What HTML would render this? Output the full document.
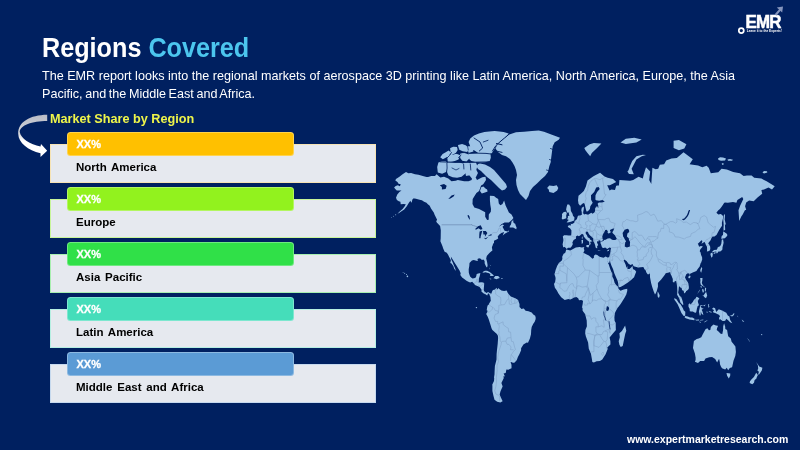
<!DOCTYPE html>
<html><head><meta charset="utf-8">
<style>
*{margin:0;padding:0;box-sizing:border-box}
html,body{width:800px;height:450px;overflow:hidden;background:#002060}
body{position:relative;font-family:"Liberation Sans",Arial,sans-serif}
.t{position:absolute;white-space:nowrap}
#title{left:42px;top:31.5px;font-size:28px;font-weight:bold;color:#fff;transform:scaleX(0.9);transform-origin:0 0}
#title span{color:#4cc6ee}
#desc{left:42px;top:68px;font-size:12.6px;line-height:17.5px;color:#fff}
#msr{left:50px;top:110.8px;font-size:13.3px;font-weight:bold;color:#eef54a;transform:scaleX(0.952);transform-origin:0 0}
.box{position:absolute;left:50px;width:326px;height:39px;background:#e6e9ef;border:1px solid #f5e6c0}
.bar{position:absolute;left:67px;width:227px;height:23.3px;border-radius:3.5px;border:1px solid rgba(255,255,255,0.3)}
.pct{position:absolute;left:76.5px;font-size:11px;font-weight:bold;color:#fff;-webkit-text-stroke:0.3px #fff}
.lbl{position:absolute;left:76px;font-size:11.5px;font-weight:bold;color:#000;word-spacing:1.6px}
#url{left:627px;top:433px;font-size:10.5px;font-weight:bold;color:#fff}
</style></head><body>
<div class="t" id="title">Regions <span>Covered</span></div>
<div class="t" id="desc">The EMR report looks into the regional markets of aerospace 3D printing like Latin America, North America, Europe, the Asia<br><span style="word-spacing:-0.9px">Pacific, and the Middle East and Africa.</span></div>
<div class="t" id="msr">Market Share by Region</div>
<div class="box" style="top:144px;border-color:#f6e3b4"></div>
<div class="bar" style="top:132.4px;background:#ffc000"></div>
<div class="t pct" style="top:138px">XX%</div>
<div class="t lbl" style="top:161px">North America</div>
<div class="box" style="top:199px;border-color:#c8f59a"></div>
<div class="bar" style="top:187.4px;background:#92f21e"></div>
<div class="t pct" style="top:193px">XX%</div>
<div class="t lbl" style="top:216px">Europe</div>
<div class="box" style="top:254px;border-color:#a8efb0"></div>
<div class="bar" style="top:242.4px;background:#30e048"></div>
<div class="t pct" style="top:248px">XX%</div>
<div class="t lbl" style="top:271px">Asia Pacific</div>
<div class="box" style="top:309px;border-color:#b5efe2"></div>
<div class="bar" style="top:297.4px;background:#45ddba"></div>
<div class="t pct" style="top:303px">XX%</div>
<div class="t lbl" style="top:326px">Latin America</div>
<div class="box" style="top:364px;border-color:#c6d9ee"></div>
<div class="bar" style="top:352.4px;background:#5b9bd5"></div>
<div class="t pct" style="top:358px">XX%</div>
<div class="t lbl" style="top:381px">Middle East and Africa</div>
<svg style="position:absolute;left:0;top:0" width="800" height="450" viewBox="0 0 800 450">
<defs><linearGradient id="ag" x1="0" y1="0" x2="0" y2="1"><stop offset="0" stop-color="#b9bcc6"/><stop offset="0.45" stop-color="#d3d5db"/><stop offset="0.62" stop-color="#ffffff"/><stop offset="1" stop-color="#ffffff"/></linearGradient></defs>
<path d="M47.2,114.8 C30,115 18,122 18.2,133.7 C18.5,143 28,150 40.5,153.3 L40.5,157 L47.2,150.8 L41,143.9 L40.5,146.6 C30,144 21,139 19.7,132 C20,125 32,121 47.2,120.9 Z" fill="url(#ag)"/>
<path d="M394.1,187.6 395.7,186.1 397.8,185.3 399.9,186.3 400.7,184.2 398.5,183.7 397.5,181.9 395.3,180.4 396.0,178.9 399.4,176.7 402.6,174.2 406.0,171.9 408.4,173.3 411.1,173.0 415.0,174.2 418.5,174.7 422.8,175.9 426.5,177.0 428.1,177.0 431.3,176.1 435.0,175.9 436.6,174.2 440.3,177.5 444.0,176.7 448.3,178.6 451.5,181.3 455.7,180.8 457.8,180.0 464.2,181.3 468.5,181.3 471.7,180.0 472.4,170.4 474.9,175.9 477.0,180.0 482.3,177.3 485.5,176.7 486.0,180.0 483.4,184.0 481.8,185.3 481.2,185.3 479.1,191.1 476.4,192.9 472.7,198.9 472.5,204.0 474.3,207.6 479.1,209.1 485.2,212.2 485.2,216.8 487.1,220.1 488.7,219.7 488.8,214.5 490.8,211.7 491.0,209.1 490.3,204.7 489.9,200.1 489.9,195.8 494.0,196.0 496.1,197.7 498.2,198.9 498.8,203.5 500.4,205.3 502.5,204.0 504.1,200.5 505.7,205.8 507.3,209.1 508.9,212.4 511.5,214.5 513.4,218.1 512.1,219.7 508.9,222.4 504.6,222.4 501.4,224.2 498.8,226.8 502.5,224.6 504.1,225.2 502.5,226.8 503.8,229.3 504.6,230.7 507.8,231.6 508.9,230.3 508.9,231.4 505.1,233.5 502.7,235.4 504.1,232.0 501.4,233.0 499.3,234.5 497.7,236.4 498.2,238.6 496.6,239.5 494.0,240.8 494.0,242.8 493.0,243.9 492.8,245.0 491.9,247.3 492.4,250.4 490.8,251.7 489.7,252.8 488.5,253.9 486.8,256.0 486.2,258.5 487.1,261.9 487.6,265.2 487.2,267.3 486.5,267.3 485.7,265.8 484.7,263.4 484.6,261.0 483.4,259.4 481.9,259.9 480.7,258.7 479.1,258.2 477.5,259.0 477.8,261.0 476.4,260.7 473.8,259.9 471.9,260.5 469.5,263.0 469.3,266.0 468.7,269.3 468.8,272.5 469.2,274.1 470.1,276.5 471.7,278.0 472.7,278.6 474.9,278.0 475.9,277.3 476.4,275.4 476.7,274.1 479.1,273.3 480.4,273.3 479.6,276.5 478.9,278.4 478.8,281.3 478.6,282.4 481.2,282.2 483.4,282.4 484.2,283.7 483.9,287.6 483.7,289.9 484.4,291.4 486.5,293.0 488.1,292.1 490.4,293.6 489.8,295.6 489.2,293.9 488.1,293.2 487.2,295.6 485.5,294.2 483.7,293.6 481.4,291.4 481.6,289.7 479.6,286.9 478.6,286.5 475.4,285.2 474.5,284.3 472.2,281.8 470.1,282.6 467.9,281.6 466.5,280.8 464.2,279.1 462.1,277.5 460.3,275.1 460.7,273.3 459.5,270.6 457.8,267.7 456.3,265.2 454.8,262.9 452.7,259.4 450.8,256.5 451.3,259.4 452.5,261.9 453.8,265.2 455.4,269.0 455.8,271.1 454.1,268.5 453.4,266.3 451.5,263.5 450.3,263.0 450.9,260.2 448.7,256.1 448.1,254.8 446.8,252.7 444.6,251.7 443.1,248.2 442.4,245.9 440.4,241.2 440.7,238.2 440.8,230.3 440.1,226.0 439.2,225.0 436.8,222.6 436.2,221.2 437.1,219.7 436.1,217.7 434.5,214.5 433.9,212.8 432.9,211.3 431.0,208.5 429.7,205.8 427.6,204.0 426.5,202.8 424.1,201.7 421.9,200.3 419.6,199.8 416.9,198.9 414.9,198.4 413.2,198.4 412.3,199.8 411.9,201.7 411.3,202.8 410.4,200.8 408.9,202.8 406.8,206.2 404.2,209.6 401.5,211.3 399.4,212.8 397.5,213.7 399.9,211.3 402.6,209.1 404.7,206.2 405.8,204.2 403.6,204.0 400.7,204.2 400.4,201.7 398.8,201.2 396.9,200.1 396.0,197.7 397.3,194.6 399.4,192.1 401.5,190.6 399.4,190.4 396.8,190.4 395.3,189.1ZM562.6,244.2 563.2,247.3 564.8,246.9 566.0,248.2 566.7,249.0 568.0,247.8 570.5,247.8 571.8,246.2 572.9,244.1 572.3,242.8 573.6,240.1 576.1,238.4 575.9,236.4 577.4,235.6 579.0,236.2 580.6,234.9 582.0,233.7 583.5,234.7 583.8,236.6 585.6,238.8 587.5,240.4 589.2,241.7 589.3,245.6 590.3,244.6 590.8,243.7 590.2,242.4 590.9,241.2 592.3,241.7 591.8,240.8 589.7,239.3 589.9,238.4 587.7,237.3 587.1,235.4 585.7,233.5 585.8,231.8 587.2,231.4 588.1,232.2 588.8,234.1 590.1,235.4 591.9,237.1 593.3,238.6 593.3,241.2 594.1,242.6 595.1,245.0 595.6,247.6 596.6,248.3 597.3,248.3 597.1,245.7 597.8,245.7 598.2,245.1 597.1,242.8 597.0,240.8 598.1,241.9 598.7,240.3 600.3,240.4 600.6,241.7 601.9,240.8 603.5,239.9 602.4,239.0 602.3,236.0 603.1,234.1 604.2,232.2 605.3,229.9 606.5,229.7 607.3,230.5 608.2,232.0 607.2,231.8 608.3,233.5 609.3,233.2 610.4,232.4 611.4,231.8 610.4,231.8 609.9,230.1 612.5,228.7 614.3,228.3 613.3,230.7 612.3,232.2 612.8,233.2 614.9,235.2 616.9,239.0 615.2,240.1 612.9,240.1 611.2,239.3 610.1,238.2 607.7,238.4 605.6,239.7 603.7,240.1 604.0,240.8 601.9,241.4 600.7,241.7 600.4,243.0 601.1,244.6 601.7,246.4 602.4,247.8 603.6,248.0 605.2,247.6 607.2,248.9 609.4,247.6 611.1,248.0 610.7,249.4 610.7,250.8 610.4,252.7 610.0,254.3 609.7,254.6 609.6,255.8 609.1,257.2 607.2,257.5 607.0,257.3 607.2,259.5 608.3,262.7 609.1,263.2 609.9,260.2 610.4,262.7 611.6,266.0 613.0,269.1 614.3,273.3 616.0,277.3 617.8,281.3 618.3,284.0 618.8,287.3 620.5,287.1 623.7,285.2 624.8,284.4 627.9,282.4 631.1,280.0 632.7,278.6 634.1,277.3 634.9,275.1 636.2,271.7 634.9,269.9 633.2,269.3 632.5,266.8 632.5,265.4 631.6,267.0 631.4,267.2 629.5,269.1 627.5,269.0 627.4,267.2 627.1,265.8 626.7,268.0 626.0,266.2 625.8,265.0 623.7,260.4 624.2,259.5 626.1,260.7 626.7,261.2 628.5,263.7 630.6,265.0 632.5,264.0 633.6,266.3 636.4,267.0 638.1,267.5 640.7,267.2 643.3,267.0 643.9,268.0 644.4,269.3 645.5,270.1 646.0,271.2 646.1,272.0 647.4,274.1 648.1,274.6 649.8,273.6 649.9,272.0 649.9,274.0 650.0,277.3 651.1,283.0 652.2,286.9 653.7,291.6 655.0,294.4 655.8,293.3 656.8,291.0 658.0,286.6 657.9,282.9 659.0,281.8 661.2,279.4 663.9,276.1 665.0,274.5 665.7,273.2 666.7,273.0 668.9,272.4 670.2,272.0 670.8,274.5 671.4,275.6 672.8,278.9 672.8,282.1 674.2,282.4 674.9,281.0 676.4,281.3 677.1,286.8 677.4,291.4 677.1,294.7 678.4,296.9 679.3,298.6 680.4,302.6 682.7,304.9 683.4,304.5 682.6,301.0 681.3,297.3 679.6,295.8 678.2,292.7 678.8,287.6 679.5,286.0 680.0,287.2 681.6,288.0 682.1,289.9 682.7,290.5 683.7,290.8 684.1,293.6 685.9,292.1 686.1,291.0 686.9,290.7 688.7,289.1 688.9,286.9 688.3,283.2 687.7,281.9 685.9,279.6 685.0,277.3 686.0,275.1 686.1,274.5 687.5,273.3 689.3,273.5 689.8,275.3 690.1,273.8 693.3,272.2 694.0,272.0 696.5,270.9 696.7,270.4 698.1,268.5 699.7,266.5 699.8,266.0 700.8,262.7 701.0,262.9 702.2,259.5 702.1,257.3 701.1,254.9 700.5,252.2 699.7,251.3 700.5,249.0 700.6,248.9 702.9,246.6 701.0,245.9 699.1,246.7 698.3,244.6 697.7,243.7 697.9,243.7 699.7,242.1 701.5,240.3 702.4,241.0 701.5,244.1 702.9,242.8 704.8,242.1 705.7,244.6 706.9,246.4 707.1,249.0 706.9,251.5 708.3,251.3 709.8,250.6 710.3,249.0 710.2,246.7 709.1,244.4 708.2,243.3 709.2,241.9 710.6,240.3 711.6,237.7 712.9,236.2 714.0,236.7 716.5,234.9 719.3,229.7 722.0,225.8 721.9,222.8 723.0,218.3 723.1,216.0 720.9,214.1 718.3,214.5 716.4,212.8 718.1,210.6 719.9,209.1 722.0,206.2 724.1,203.1 724.9,202.6 727.8,202.8 733.0,202.1 736.4,202.8 737.4,200.1 742.2,197.0 743.3,198.9 740.1,205.8 738.5,210.2 739.2,221.0 741.3,216.6 742.7,214.5 744.9,210.2 746.2,209.8 745.1,206.2 746.2,202.4 749.1,200.5 753.7,201.2 756.0,198.9 757.8,197.2 762.2,193.8 761.4,190.1 764.0,189.4 768.5,187.6 772.0,189.4 774.7,186.2 771.1,184.0 766.6,181.3 761.4,178.6 754.2,177.8 751.6,175.6 747.0,175.6 743.6,175.9 740.0,173.3 738.5,173.0 733.2,171.9 726.8,169.6 721.5,168.7 718.3,172.2 710.8,173.3 708.7,167.8 706.6,165.7 702.3,167.2 698.1,165.4 692.8,164.8 689.6,164.2 692.8,159.2 683.5,152.3 676.8,157.9 671.5,158.6 666.2,160.5 664.1,164.2 659.8,164.8 658.2,168.7 655.6,169.3 652.4,167.8 651.3,184.0 649.2,180.0 650.2,171.6 646.0,167.2 643.9,173.9 642.8,178.6 638.6,176.7 633.2,180.0 630.1,180.8 619.4,180.0 618.9,185.8 619.4,185.3 616.2,185.8 615.0,190.1 611.4,189.6 609.6,190.4 607.2,185.3 609.9,185.3 616.2,182.1 613.0,178.9 607.7,177.8 604.5,176.4 600.1,172.8 593.9,175.9 592.7,176.7 587.5,180.5 585.9,186.6 583.8,190.9 581.7,192.9 578.5,195.8 578.0,200.3 578.5,203.7 580.1,205.8 582.7,203.5 583.9,203.1 584.6,203.7 585.2,206.5 586.0,209.8 586.5,211.5 587.9,211.3 589.9,209.1 590.3,206.2 592.7,202.8 591.1,199.8 591.0,195.3 594.2,192.1 596.2,187.6 598.7,187.1 599.7,189.1 597.1,192.1 595.5,195.3 595.4,199.4 596.0,200.3 599.2,200.8 602.4,200.1 604.8,201.5 602.4,202.4 600.3,202.4 598.9,202.6 597.6,203.7 598.4,206.0 598.3,208.0 596.7,206.3 595.1,208.5 595.1,210.9 594.4,212.6 592.5,213.7 591.3,212.8 588.1,214.7 585.5,214.1 584.3,214.5 583.4,213.7 583.1,212.4 583.8,209.1 583.9,206.5 581.8,207.8 581.3,210.2 581.8,212.2 581.8,214.5 581.9,214.7 580.1,215.6 578.0,215.8 577.6,216.8 577.0,218.7 576.1,220.1 574.6,220.9 574.4,222.4 572.8,223.8 571.4,224.0 570.6,223.4 571.1,225.4 569.5,225.2 567.7,226.0 568.2,227.2 570.0,228.2 571.4,230.3 571.4,232.6 571.2,235.2 570.8,235.6 568.6,235.4 566.5,235.2 564.1,235.1 564.3,234.9 562.8,236.6 563.2,238.4 563.4,239.9 563.1,241.9ZM566.4,249.4 570.3,250.6 572.6,249.2 575.8,247.6 579.6,247.1 581.8,247.5 584.4,247.1 583.8,248.3 584.4,250.4 584.1,251.3 583.4,252.5 583.4,252.7 584.3,253.2 586.7,254.4 588.9,255.5 592.5,258.7 593.9,257.7 593.9,255.8 595.5,254.4 597.3,254.9 598.2,255.8 599.4,256.8 603.5,257.8 604.4,257.3 605.6,256.6 607.0,257.2 607.3,259.4 608.3,263.9 608.6,264.0 610.4,269.4 612.2,274.1 612.2,276.4 613.6,278.9 614.6,282.7 616.2,285.2 618.0,286.8 618.6,289.0 620.5,290.8 623.7,289.6 627.2,288.7 627.3,290.8 626.3,294.5 624.7,297.6 620.8,303.8 618.4,306.9 617.8,307.5 616.1,310.4 614.9,313.1 614.4,317.3 614.6,320.7 615.7,323.0 615.8,328.5 615.9,330.0 612.5,334.0 609.6,337.6 610.4,341.2 610.4,344.4 607.3,347.5 607.6,349.3 605.6,354.2 602.3,359.4 599.9,361.0 596.6,361.2 593.9,362.6 592.3,361.9 592.2,361.0 591.8,358.6 590.9,353.5 590.2,352.0 588.8,348.7 588.1,342.6 585.9,336.4 585.2,333.5 585.4,330.0 586.9,326.3 586.7,320.4 585.6,316.1 585.2,314.2 582.6,310.8 582.5,307.6 581.9,307.9 582.7,303.8 583.0,301.0 583.0,300.7 581.2,299.9 579.0,300.2 578.2,298.2 576.3,297.0 573.9,297.5 572.4,298.4 570.4,299.6 568.4,298.9 564.7,300.1 561.2,297.2 558.6,293.8 556.7,290.2 554.9,287.7 554.0,284.1 555.1,282.1 555.6,278.8 555.4,277.0 554.5,274.5 555.6,270.1 557.2,265.8 558.9,262.9 561.8,260.5 562.4,258.7 562.2,256.8 563.6,253.7 564.6,253.2 565.4,252.5 566.1,249.9ZM625.1,325.4 626.3,330.7 625.2,334.0 624.2,338.8 622.7,345.9 620.7,346.9 619.4,344.7 618.7,341.2 619.8,337.2 619.4,333.2 621.9,331.1 623.7,327.9ZM490.4,293.6 491.3,293.8 492.4,290.7 493.1,289.9 495.1,289.4 496.4,287.7 497.0,289.0 496.5,289.9 498.0,288.8 498.2,288.0 499.3,289.1 501.4,290.5 504.1,291.0 506.7,290.4 507.8,293.0 508.3,293.8 510.8,296.4 514.0,297.8 517.1,299.3 518.2,300.2 518.4,301.0 519.5,304.1 519.5,306.9 521.1,308.4 521.1,309.0 523.8,308.4 525.6,310.7 528.5,311.3 531.7,312.5 533.3,314.5 535.2,315.8 535.7,317.8 535.6,319.3 534.7,321.8 533.3,323.8 531.7,326.9 531.2,330.0 531.0,334.3 529.9,338.4 528.0,342.8 526.7,342.6 523.4,344.4 521.1,348.2 521.1,350.3 519.5,354.0 517.9,356.9 516.8,360.0 515.8,361.2 514.3,362.8 512.9,362.7 511.1,362.0 510.6,362.2 511.5,364.7 511.5,368.2 508.3,369.8 506.4,369.6 505.7,373.1 503.6,373.6 505.0,376.4 503.6,376.0 503.7,378.3 501.4,383.0 502.5,385.9 502.6,386.4 500.6,390.9 499.7,394.2 500.0,395.6 500.9,397.5 502.5,400.9 503.3,400.7 500.4,402.6 497.2,401.7 494.5,399.8 493.5,396.0 492.4,390.9 492.4,385.9 492.3,384.6 494.0,381.1 494.2,378.3 494.0,377.3 494.5,374.5 494.6,371.4 494.9,366.1 496.1,361.2 496.5,359.4 496.6,354.3 496.9,351.0 497.7,343.8 498.1,338.0 497.9,335.6 496.6,333.7 492.4,330.0 491.5,328.2 490.7,325.4 488.7,319.2 487.7,316.8 486.2,314.1 487.3,312.1 487.6,310.7 486.7,310.2 487.1,307.6 487.6,305.6 488.9,304.5 488.9,304.1 490.3,301.5 490.8,300.9 490.4,296.7 489.7,295.6ZM693.0,347.9 693.9,340.9 696.7,338.9 698.7,338.4 701.3,337.2 702.5,334.8 704.0,332.1 705.5,329.3 707.4,328.2 708.9,330.2 710.3,329.9 710.8,327.2 711.7,326.0 713.6,324.4 715.1,325.2 717.2,325.7 718.1,325.7 717.1,327.9 716.7,330.0 718.5,331.6 720.7,333.8 722.3,334.0 723.1,330.0 723.2,326.3 724.1,323.3 725.2,326.8 725.3,329.0 727.1,330.0 727.6,333.0 728.2,336.2 730.8,338.6 731.6,341.7 733.1,343.6 735.4,346.4 735.9,352.0 735.3,356.0 733.5,360.8 732.1,367.3 729.8,368.0 728.2,370.2 726.7,367.8 725.2,369.6 722.0,368.2 720.9,366.4 719.9,364.0 719.9,362.7 719.1,358.8 717.1,362.6 715.2,359.1 712.1,356.9 709.2,357.2 705.5,358.6 704.1,361.0 700.2,361.0 698.0,363.1 694.9,361.7 695.6,360.0 695.6,357.6 694.9,353.5 693.8,350.2ZM487.6,191.6 485.0,192.6 481.8,193.6 480.0,191.1 481.2,187.3 483.4,186.6 485.5,188.6 487.1,189.6ZM509.6,227.6 513.1,227.6 516.3,229.3 516.6,227.6 515.8,225.8 515.2,223.8 513.7,223.0 513.1,220.8 513.7,219.5 511.5,221.4 511.0,224.6 509.9,226.0ZM547.1,187.9 549.3,185.5 553.5,186.1 556.7,185.3 558.3,187.9 557.2,190.6 553.5,193.1 549.3,192.1 548.7,189.6ZM584.3,147.9 589.7,144.3 593.9,142.9 601.4,143.6 597.1,147.9 591.8,153.0 590.2,156.3 587.5,153.0 585.4,150.3ZM620.5,142.5 625.8,144.0 636.4,142.5 641.7,139.6 634.3,137.7 625.8,138.8ZM627.4,171.6 629.0,173.9 633.8,174.2 631.6,168.7 633.2,165.7 636.4,159.5 641.7,156.3 646.0,155.0 642.8,154.7 636.4,156.3 632.2,161.1 630.1,165.7 628.5,170.2ZM673.6,147.9 678.9,150.3 684.3,148.6 686.4,144.3 678.9,139.9 673.6,140.7ZM762.5,172.5 764.0,171.0 767.0,171.3 767.3,172.5 764.0,173.5ZM711.8,252.5 713.5,252.0 716.2,251.5 716.3,253.0 717.0,253.4 718.2,252.0 718.3,251.5 720.2,251.5 721.3,250.8 722.4,249.6 722.5,247.3 723.1,245.0 723.6,242.8 723.1,239.3 721.8,239.7 721.5,241.9 721.3,243.7 720.4,245.7 718.6,247.3 718.1,246.6 717.2,249.0 716.7,249.7 714.0,249.9 712.4,251.5ZM721.5,239.2 722.7,238.6 724.9,238.2 727.3,235.8 727.1,234.1 723.6,231.6 723.2,231.8 723.0,234.9 721.9,235.8 721.4,237.1ZM710.5,253.4 711.8,252.7 712.9,253.7 712.4,256.8 711.6,257.7 711.1,256.8 710.5,254.8ZM713.5,253.7 714.6,253.7 715.8,252.9 715.6,252.2 714.0,252.4ZM723.6,230.7 725.2,229.7 724.9,224.2 725.9,224.8 724.7,219.5 725.0,215.6 724.3,213.7 723.8,215.6 723.3,219.7 723.7,224.8 723.5,228.7ZM700.3,270.9 701.0,272.5 701.3,272.4 702.2,268.5 701.9,267.2 701.3,267.5 700.4,269.6ZM688.1,277.0 689.0,278.6 690.1,277.8 690.6,276.1 689.6,275.6ZM700.2,278.1 700.8,278.1 702.5,278.1 702.3,280.5 701.8,282.9 702.9,285.2 704.5,286.8 704.5,287.4 703.6,286.5 701.8,285.5 700.8,284.7 700.2,282.1 700.5,281.1ZM702.3,296.1 703.9,294.9 704.5,294.1 706.1,291.8 707.2,295.6 706.0,298.2 704.5,297.3 702.9,295.3ZM705.0,287.6 706.2,288.2 705.7,291.4 704.8,291.3ZM702.3,288.7 703.6,289.6 703.9,292.2 702.8,292.4 702.2,290.5ZM697.2,293.9 699.7,290.7 700.0,289.4 698.6,291.4ZM700.7,286.0 701.8,286.5 701.5,287.9 700.5,287.1ZM688.5,304.5 689.2,303.6 690.6,304.4 692.8,302.1 694.0,299.8 695.4,298.7 696.5,296.7 697.8,297.2 699.4,298.6 698.3,300.1 697.8,301.8 699.0,305.2 697.7,306.1 696.9,308.7 696.5,311.0 696.0,312.7 694.5,312.4 692.8,311.6 691.2,311.5 689.8,311.3 689.6,308.8 688.5,306.7ZM674.0,298.2 676.3,298.9 678.9,302.9 680.5,304.2 682.9,308.2 683.8,310.4 685.3,311.8 685.2,315.8 683.7,315.9 681.4,313.0 679.4,308.2 677.6,304.2 676.1,301.9 674.6,299.9ZM684.5,317.3 685.3,315.9 687.8,316.5 690.0,317.5 692.3,317.5 694.5,318.7 694.3,320.2 689.6,319.5 685.8,318.2ZM694.9,319.3 695.6,319.8 695.1,320.4ZM696.0,319.8 699.1,319.5 699.1,320.4 696.0,320.5ZM700.0,319.9 703.4,319.5 703.2,320.2 700.2,320.4ZM703.9,322.7 705.7,321.0 708.0,319.8 706.1,321.6ZM699.5,321.6 701.1,322.3 700.6,322.7 699.1,321.9ZM698.9,311.5 699.7,315.5 700.7,315.3 700.8,311.5 701.8,314.1 703.4,315.0 702.5,311.5 701.6,309.8 703.7,308.4 701.8,308.2 700.5,306.1 703.4,305.5 705.7,304.5 704.5,306.2 701.3,304.9 700.2,305.6 699.8,307.6ZM708.2,304.1 709.2,304.5 708.7,306.1 709.5,306.5 708.7,308.1 708.1,306.1ZM708.7,311.8 711.7,312.7 711.4,311.8 709.2,311.3ZM706.6,311.6 707.9,312.1 707.3,312.8 706.6,312.4ZM711.9,309.0 713.5,307.5 715.1,308.2 716.2,311.9 718.8,309.2 722.0,310.5 726.3,312.7 727.8,315.5 729.4,316.4 730.2,319.9 732.3,323.2 730.0,322.3 728.4,320.4 726.3,318.8 725.2,320.7 723.8,321.0 722.5,320.9 720.4,319.3 719.3,319.8 718.9,317.6 720.0,317.1 719.3,315.1 716.2,313.6 714.6,312.8 713.8,313.1 713.0,311.3 714.2,310.2 712.8,309.3ZM730.5,315.3 732.1,315.3 733.7,313.3 734.5,313.5 733.7,315.3 732.1,316.5 730.3,315.8ZM737.4,315.3 738.3,317.3 737.6,316.8ZM741.7,319.6 743.3,320.7 744.3,321.9 742.7,321.6ZM657.6,291.8 658.0,291.8 659.7,295.3 659.3,297.3 658.3,297.8 657.7,296.4 657.5,294.5ZM566.6,222.6 568.9,222.2 571.6,221.4 574.1,220.4 574.5,217.5 573.0,215.8 572.5,213.7 570.9,211.1 570.5,206.7 569.1,204.4 567.3,204.4 566.6,206.9 566.1,209.6 567.0,212.0 567.5,212.8 569.2,212.6 568.8,213.7 569.5,215.8 567.7,216.0 568.1,217.0 567.1,219.3 568.9,219.9 568.1,220.4ZM566.3,218.3 566.2,215.6 566.8,213.5 566.1,211.7 563.8,212.0 562.0,214.1 562.1,216.0 561.7,218.5 562.6,219.5 564.1,219.1ZM585.8,245.9 587.0,245.1 589.2,245.0 588.7,247.3 587.9,247.6 586.0,246.2ZM581.6,243.7 582.9,243.3 583.1,240.3 582.4,239.7 581.4,240.3 581.7,241.9ZM581.8,238.4 582.4,239.3 582.7,236.7 582.6,236.4 581.9,237.1ZM597.6,250.3 600.6,250.4 600.3,250.8 598.2,250.8ZM607.0,251.3 608.7,251.0 609.4,249.6 607.7,250.1ZM482.4,272.7 483.4,271.4 485.0,270.7 487.1,270.7 489.7,272.0 492.2,274.0 493.9,275.4 493.2,275.9 490.1,275.9 490.4,274.6 489.2,273.3 487.1,272.8 485.6,272.2 484.4,272.5ZM493.5,278.3 495.3,275.9 498.2,276.1 499.9,278.0 498.2,278.6 496.4,279.2 494.5,278.6ZM489.3,278.3 491.6,278.9 490.6,279.4ZM501.1,278.3 502.9,278.4 502.7,278.9 501.2,278.9ZM489.7,264.7 490.8,265.2 490.2,265.7ZM489.5,267.3 490.1,269.0 489.7,269.3ZM726.5,373.1 730.3,373.4 730.2,375.7 728.8,378.5 727.1,375.8ZM756.2,361.9 758.1,364.7 759.2,366.4 762.4,367.7 761.8,370.4 760.6,372.2 758.9,374.7 758.2,374.2 758.9,371.8 757.4,370.4 758.2,368.6 757.9,365.5ZM756.2,372.7 757.9,374.9 756.8,377.3 756.3,378.8 754.6,380.0 754.0,382.8 752.3,384.2 749.6,383.0 750.0,381.3 751.6,379.2 753.9,377.0 755.0,374.9ZM761.0,334.0 762.4,334.5 762.1,335.3 761.1,334.9ZM747.2,338.3 749.6,341.5 750.2,341.7 748.0,338.8ZM508.5,134.8 516.0,132.3 524.0,131.7 532.0,131.0 538.7,130.6 544.0,131.7 549.3,133.7 556.0,136.3 560.0,137.7 558.7,139.7 554.7,142.3 552.7,146.3 552.0,151.7 551.3,157.0 550.7,162.3 549.3,166.3 548.0,172.0 545.0,176.0 541.0,179.5 537.0,183.5 533.0,187.0 530.0,191.0 528.5,196.0 526.0,200.0 523.0,197.0 520.0,194.0 518.0,190.0 516.5,185.0 516.0,180.0 517.0,175.0 516.0,170.0 514.5,166.0 512.5,162.5 510.0,159.0 506.0,156.3 502.0,155.0 498.0,152.0 495.5,148.5 497.0,145.5 501.0,141.5 505.0,138.0ZM480.0,163.5 485.0,164.5 490.0,167.0 494.0,170.0 497.0,173.5 500.0,177.0 503.0,180.5 506.0,184.0 507.0,187.0 505.0,189.5 502.0,190.5 499.0,188.0 495.0,184.0 491.0,180.0 487.0,177.0 484.0,174.0 481.0,171.0 478.0,169.0 476.5,166.5 478.0,164.0ZM718.0,158.5 720.0,157.2 723.0,157.5 726.0,158.5 725.0,160.5 721.0,160.8 718.5,160.0ZM727.5,159.5 730.0,159.0 733.0,159.8 732.0,160.8 728.0,160.8ZM721.8,163.3 723.6,163.2 723.5,164.8 722.0,164.8Z" fill="#9dc3e6" fill-rule="nonzero"/>
<path d="M442.0,157.0 443.5,155.0 446.0,153.5 448.5,152.0 449.5,152.8 448.0,154.5 445.5,156.5 443.0,157.8ZM451.5,149.0 453.5,148.0 456.0,148.3 456.3,150.0 454.5,152.5 452.0,153.0ZM448.5,157.0 451.0,155.5 454.0,156.0 456.0,155.0 458.5,156.0 457.5,158.5 455.0,159.5 452.0,160.5 449.0,161.0ZM459.5,146.0 462.0,145.3 465.0,146.5 467.5,148.5 466.5,150.5 463.0,150.0 460.0,148.5ZM461.5,154.5 464.0,154.0 467.5,155.5 468.0,158.0 466.0,160.0 463.0,159.5 461.5,157.5ZM468.7,147.5 471.5,147.3 472.0,150.5 469.5,151.3ZM470.0,142.0 471.3,139.3 474.7,136.7 479.3,134.7 484.7,133.3 489.3,132.7 494.7,132.3 499.3,132.7 503.3,133.3 506.5,134.3 502.0,140.0 498.0,143.3 494.7,146.0 492.7,149.3 491.0,152.0 488.0,152.5 484.7,152.5 479.3,152.3 476.0,150.0 472.0,147.3ZM470.0,154.7 474.0,154.2 478.7,154.0 484.0,154.2 489.3,154.7 489.5,157.5 488.7,160.0 485.0,161.0 482.0,161.3 478.0,161.0 475.3,160.7 472.0,159.8 470.7,158.7ZM439.0,171.5 438.5,167.0 439.5,163.5 442.0,162.3 445.0,162.3 446.5,164.0 446.0,168.0 445.0,171.0 442.0,172.3ZM447.5,164.0 451.0,163.5 455.0,164.0 459.0,163.8 462.0,164.5 462.5,168.0 465.0,170.0 464.0,173.0 461.0,175.5 457.0,176.5 453.0,176.0 449.5,174.5 448.0,171.0 448.5,167.5ZM464.5,164.0 468.0,163.5 470.0,165.0 469.5,169.0 467.0,170.0 465.0,168.0ZM471.0,163.8 475.0,163.5 476.0,166.0 475.0,170.0 476.5,173.0 475.0,176.0 472.0,176.5 470.0,174.0 471.0,170.0 470.5,166.5ZM466.5,172.0 469.0,171.5 469.5,174.0 467.0,174.5Z" fill="#9dc3e6" stroke="#9dc3e6" stroke-width="2.6" stroke-linejoin="miter"/>
<path d="M485.0,232.0 L485.1,236.4 L484.3,238.0 L485.0,238.8M488.7,235.8 L488.7,236.7M491.5,234.1 L493.2,232.6 L496.6,232.6 L497.9,230.9 L499.1,228.0 L500.4,228.2 L500.6,231.3 L501.4,233.0M474.6,284.4 L474.6,283.2 L475.5,281.9 L476.6,281.9 L476.6,279.2 L477.8,279.2 L477.8,282.2 L478.9,282.6M477.7,284.6 L478.6,285.2 L479.6,286.8M479.3,285.4 L480.5,286.3 L482.3,284.3 L484.2,283.7M481.6,289.7 L483.7,289.9M484.5,294.1 L484.8,292.1M490.4,293.6 L490.6,294.7M496.6,289.1 L495.6,289.9 L495.7,294.2 L498.1,296.1 L500.6,297.3 L500.9,300.2 L500.6,303.8 L501.5,305.0M501.5,305.0 L504.6,304.5 L506.7,300.7 L508.1,298.9 L508.8,299.0 L508.3,293.8M508.8,299.0 L509.1,300.2 L509.3,304.1 L511.0,304.5 L512.6,303.8 L514.7,303.3 L516.7,303.0 L517.7,300.4M512.0,297.6 L511.0,300.7 L511.8,303.3M515.2,298.1 L514.7,303.3M501.5,305.0 L498.8,305.3 L498.9,308.4 L498.2,313.3 L495.1,314.5 L494.1,318.2 L495.6,321.5 L497.7,321.5 L497.6,323.8 L498.8,323.8 L503.1,321.8 L503.2,324.6 L506.7,327.4 L508.3,328.2 L508.7,331.9 L510.6,332.1 L511.0,337.6 L511.5,341.3 L513.3,341.7 L514.6,347.0 L515.5,349.5 L513.5,351.3 L511.4,354.7 L515.9,360.7M488.9,304.5 L490.8,306.2 L492.6,307.0 L492.3,309.2 L489.4,312.1 L487.3,312.1M498.3,313.3 L498.1,311.0 L495.2,310.5 L494.4,308.7 L492.9,307.2M498.8,323.8 L499.3,326.6 L498.7,330.7 L499.2,332.6 L498.7,334.1 L497.9,335.3M498.7,334.1 L499.9,337.0 L500.2,340.4 L501.3,342.3 L501.1,344.6 L499.9,348.2 L498.7,351.5 L497.8,357.6 L498.5,361.5 L497.0,365.5 L497.1,370.9 L496.3,377.9 L496.5,380.9 L496.0,386.1 L494.7,390.7 L495.8,394.0 L498.8,395.4 L499.7,396.2 L499.7,401.1M501.3,342.3 L502.7,341.3 L504.7,341.2 L505.9,341.2 L507.0,344.3 L508.9,344.4 L511.1,347.0 L510.4,349.7 L513.5,349.8M505.9,341.2 L507.3,338.0 L510.8,337.6M510.6,361.0 L511.0,354.7 L511.4,354.7M563.4,263.2 L563.4,263.9 L567.5,267.7 L573.9,273.8 L576.2,277.3 L577.2,277.0 L578.8,276.7 L580.6,274.5 L585.3,270.1 L582.9,265.2 L583.2,259.5 L582.7,258.9 L583.6,253.2M570.8,250.8 L571.4,254.9 L568.7,257.8 L563.4,261.4 L563.4,263.2 L558.8,263.2M563.4,263.9 L563.4,266.2 L559.9,266.0 L559.9,270.3 L558.7,271.2 L558.8,273.6 L554.6,273.6M559.9,270.3 L566.3,273.8 L566.8,281.4 L567.0,282.7 L560.5,283.0 L559.7,284.3 L555.1,281.9M566.8,281.4 L567.5,267.7M585.3,270.1 L589.6,270.3 L598.2,276.5 L598.2,275.7 L599.2,275.7 L599.2,272.5 L611.9,272.5M599.2,256.6 L599.2,272.5M589.6,270.3 L589.1,274.6 L587.3,285.8 L588.5,288.0 L589.1,291.6 L590.5,295.3 L593.0,293.0 L595.7,290.5 L597.0,289.3 L596.2,285.5 L598.2,282.7 L598.2,276.5M576.2,277.3 L577.1,280.8 L576.5,288.8 L575.6,288.0 L573.6,286.3 L573.0,283.8 L572.1,283.5 L570.5,284.3 L568.9,286.3 L567.0,289.9 L566.9,290.8 L563.9,291.3 L561.3,288.5 L559.7,287.7 L560.5,283.0M576.5,288.8 L577.0,286.0 L579.0,285.8 L582.2,287.1 L585.9,286.6 L587.3,285.8M576.5,288.8 L575.5,293.0 L575.5,297.2M573.9,297.5 L573.6,289.9M573.0,289.7 L572.4,291.4 L573.2,294.5 L572.5,298.2M569.7,299.2 L569.2,296.4 L570.0,294.2 L569.6,292.1M585.9,286.6 L588.1,288.3 L587.3,290.5 L585.6,293.9 L584.7,296.7 L582.4,297.0 L581.7,299.5M588.5,288.0 L589.1,291.6 L589.0,295.3 L588.1,299.6 L589.7,303.3 L589.9,304.1 L592.3,301.3M584.4,303.5 L584.7,305.3 L586.7,305.0 L587.9,304.7 L587.4,303.3 L589.7,303.3M593.0,293.0 L592.3,301.3 L592.4,300.2 L594.4,300.1 L596.4,300.6 L598.7,299.0 L601.8,298.9 L604.5,301.3 L605.6,301.0M601.8,298.9 L603.5,300.1 L606.7,301.5 L608.3,301.0 L608.8,300.4 L610.8,299.8M597.1,289.0 L598.7,293.5 L601.8,298.9M611.9,272.5 L612.0,274.1 L611.4,284.9 L610.1,284.4 L608.3,288.0 L608.8,291.4 L607.7,294.9 L610.8,299.8 L617.1,300.9M611.4,284.9 L613.5,284.3 L615.4,284.6 L617.0,286.3 L617.7,287.6M617.1,300.9 L618.3,299.2 L620.5,299.2 L623.5,294.5 L619.4,293.0 L618.4,290.1M617.1,300.9 L616.1,302.7 L616.2,309.5M609.9,299.2 L609.0,299.9 L608.7,306.9 L608.7,308.4 L612.6,311.5 L614.3,314.1M604.1,309.0 L605.4,308.4 L608.7,308.4M604.1,309.0 L603.7,311.1 L605.0,310.5 L605.4,312.1 L603.9,313.6M604.1,309.0 L604.1,306.9 L604.4,304.5 L605.5,303.3 L605.6,301.0M585.4,314.5 L586.4,315.9 L590.0,315.9 L591.4,319.3 L593.3,317.8 L595.8,318.1 L595.9,321.5 L598.1,323.5 L598.3,326.9 L595.9,326.8 L596.0,331.9 L597.4,334.0 L594.9,335.3 L590.0,333.8 L587.0,333.2M598.3,326.9 L601.9,325.7 L604.1,327.4 L604.2,325.5 L603.4,319.9 L605.4,319.6 L603.9,313.6M605.4,319.6 L607.5,321.3 L608.7,321.8 L609.3,324.7 L610.2,333.4 L608.5,329.3 L604.9,331.0 L603.4,331.6 L601.9,334.6 L599.5,334.5 L597.4,334.0M609.3,324.7 L612.4,324.9 L615.6,322.9M607.5,321.3 L609.3,319.6 L614.3,314.1M605.4,319.6 L605.3,310.5M607.6,349.2 L606.6,347.5 L606.7,345.2 L605.8,341.7 L607.2,339.6 L607.5,335.6 L607.7,331.9 L604.9,331.0M593.9,345.7 L593.9,341.2 L595.0,335.3 L599.5,334.5 L601.9,338.6 L603.9,341.3 L605.8,341.7M590.2,352.0 L593.9,351.7 L593.9,345.7 L599.0,347.4 L600.8,345.4 L603.9,341.3M601.4,353.7 L603.1,352.0 L603.8,354.2 L602.6,355.5 L601.4,353.7M594.9,335.3 L593.9,341.2 L593.9,345.7M570.8,235.6 L573.4,236.7 L576.1,237.5M564.8,246.9 L565.0,242.8 L565.3,238.4 L563.9,238.0M575.3,220.6 L577.2,223.0 L578.8,223.8 L580.7,224.6 L581.4,227.6 L580.6,227.6 L579.9,228.2 L579.0,230.1 L580.1,230.9 L580.1,234.3 L580.6,234.9M580.6,227.6 L582.7,227.8 L583.8,228.9 L585.6,228.5 L587.2,229.7 L590.2,229.7 L589.7,225.4 L590.7,225.6 L592.6,223.8 L596.6,224.6M579.1,215.6 L580.1,218.3 L579.1,221.2 L578.8,223.8M581.8,212.4 L583.2,212.8M587.9,215.2 L588.2,219.1 L588.6,220.8 L585.5,222.2 L585.7,224.8 L587.3,225.6 L586.5,227.8 L585.6,228.5M588.6,220.8 L590.6,221.8 L592.6,223.8M596.6,224.6 L598.2,221.2 L597.6,218.5 L597.6,214.7 L596.9,213.7 L595.3,212.0 L594.4,212.6M596.6,224.6 L596.1,226.0 L599.1,227.4 L600.9,226.4 L602.6,229.5 L603.2,232.2 L604.2,232.2M590.2,229.7 L590.3,231.1 L592.7,230.9 L594.2,230.3 L596.1,226.0M594.2,230.3 L595.5,230.1 L596.8,233.5 L599.7,235.2 L602.4,235.1 L603.1,234.9M596.8,233.5 L596.5,236.4 L597.1,239.5 L600.4,239.3 L600.9,238.4 L602.4,238.2M587.2,229.7 L587.2,231.4M589.1,230.9 L592.8,231.6 L593.3,232.8 L593.1,235.4 L592.3,237.3M593.3,238.2 L594.5,239.9 L595.0,241.9 L594.1,242.6M594.5,239.9 L597.0,239.5 L597.1,239.5M597.6,214.7 L600.9,210.9 L602.6,209.8 L602.1,207.4 L601.8,204.2 L602.4,202.4M595.0,210.2 L600.9,210.9M595.1,208.5 L599.2,205.8 L601.8,206.9M597.6,218.5 L598.2,219.5 L604.5,219.7 L606.5,218.5 L608.8,218.1 L610.4,222.0 L613.0,222.8 L615.2,223.6 L613.6,228.3M598.2,219.5 L600.9,226.4 L604.0,226.4 L604.6,229.9M602.4,178.1 L603.5,184.5 L604.5,194.1 L606.1,194.6 L602.2,200.1M602.4,178.1 L600.1,179.7 L595.7,178.4 L594.5,178.6M594.5,178.6 L592.1,180.0 L589.6,182.9 L588.1,186.6 L587.6,190.4 L586.0,192.6 L585.4,196.5 L586.2,198.2 L585.2,201.5 L584.9,203.7M594.5,178.6 L597.7,185.8 L598.4,187.1M604.5,176.7 L603.3,178.4 L602.4,178.1M600.6,238.8 L602.4,238.2M611.1,248.0 L612.5,247.6 L615.2,247.6 L617.7,247.1 L620.3,246.9 L619.7,242.4 L619.0,241.4 L618.8,239.9 L616.9,239.0M617.7,247.1 L616.6,251.7 L613.9,253.6 L611.4,255.1 L610.8,254.8 L610.5,252.7 L611.2,251.3 L610.8,250.4M613.9,253.6 L614.3,255.6 L612.0,256.8 L613.0,259.4 L611.4,260.2 L609.7,260.2M614.3,255.6 L617.8,257.2 L620.2,260.7 L622.1,260.9 L623.4,261.9 L624.1,261.9M610.4,254.1 L610.5,254.8M610.4,255.3 L610.3,256.8 L609.7,260.2M611.4,260.2 L613.0,260.5M620.3,246.9 L621.0,249.2 L621.7,250.6 L620.9,252.5 L622.2,254.3 L623.4,256.1 L623.4,257.7 L624.3,259.5M619.0,241.4 L620.3,242.4 L621.0,242.8 L622.1,243.9 L623.6,242.6 L624.6,244.8M616.9,239.0 L618.8,239.9 L620.5,239.5 L622.2,239.7 L622.0,238.4 L620.0,236.9 L618.4,236.0 L615.2,235.6M628.2,281.0 L629.1,281.0 L631.4,276.2 L631.1,271.7 L627.9,270.9 L627.5,269.0M631.1,271.7 L631.9,269.3 L632.6,267.8M618.6,286.3 L620.5,279.9 L622.6,280.5 L624.4,278.6 L627.9,277.3 L629.1,281.0M622.6,280.5 L618.6,280.5 L618.1,281.4M638.1,267.5 L638.3,265.5 L639.9,264.7 L639.6,263.2 L638.3,261.7 L637.4,259.7 L638.3,258.0 L637.3,256.8 L637.4,253.4 L637.0,252.0 L637.7,249.7M637.7,249.7 L636.4,246.6 L633.0,245.1 L631.1,245.7 L629.9,246.6M637.7,249.7 L639.5,250.1 L641.7,246.7 L644.7,247.1 L646.3,247.1 L648.1,244.8 L651.8,244.4 L652.6,247.1 L651.9,247.3 L649.8,247.6 L648.3,249.0 L648.8,251.0 L647.7,252.7 L646.3,254.3 L646.3,256.1 L643.6,257.2 L643.2,259.5 L640.2,260.2 L639.1,260.4 L637.4,259.7M651.8,244.4 L651.0,243.0 L649.0,243.2 L647.6,242.6 L645.5,245.1 L644.7,247.1M651.0,243.0 L652.2,241.2 L654.0,241.2 L656.1,239.0 L657.9,238.2 L657.8,236.7 L658.6,232.4 L660.3,231.6 L661.1,228.2 L663.7,228.5 L663.7,224.6 L665.4,224.4M657.9,238.2 L656.1,236.6 L652.4,236.6 L648.3,236.7 L647.5,238.0 L648.3,239.2 L649.6,239.0 L650.6,241.9 L649.0,243.2M647.5,238.0 L645.6,240.6 L644.9,240.1 L642.8,236.6 L641.6,235.1 L638.6,235.4 L637.5,233.7 L634.8,231.4 L632.2,232.6 L632.2,239.5 L634.9,236.7 L637.5,239.7 L639.0,241.9 L641.7,244.8 L644.3,246.7M632.2,239.5 L631.1,239.5 L629.0,238.2M631.1,239.5 L630.8,240.3 L629.9,241.0M622.9,221.8 L624.4,221.6 L626.7,219.3 L630.6,220.8 L632.8,220.8 L636.0,221.8 L638.0,220.8 L637.5,215.2 L642.0,213.7 L646.0,211.5 L648.0,212.2 L650.7,215.6 L654.0,214.1 L655.6,216.6 L657.7,221.2 L661.3,220.6 L663.5,223.4 L665.4,224.4M622.9,221.8 L622.1,225.8 L623.4,227.2 L623.7,228.7 L624.7,229.7M665.4,224.4 L666.7,223.8 L670.4,221.6 L672.9,221.6 L675.8,223.2 L677.0,222.0 L676.6,218.7 L681.1,220.4 L683.2,222.4 L686.4,222.0 L690.3,224.6 L693.8,222.4 L696.7,223.0 L698.0,223.8 L699.9,228.7 L698.1,229.3 L695.4,231.8 L691.2,233.7 L690.6,236.4 L686.4,237.5 L684.3,239.0 L678.9,237.1 L675.1,236.9 L674.0,234.1 L671.9,232.6 L669.3,232.0 L669.4,228.9 L668.6,227.2 L666.2,224.2 L665.4,224.4M696.7,223.0 L698.0,223.8 L699.4,222.2 L700.7,217.5 L704.1,215.6 L706.6,217.0 L708.2,222.8 L710.8,225.0 L713.5,227.2 L715.6,226.4 L714.0,232.6 L712.2,232.8 L711.5,237.5M704.8,242.1 L706.6,239.5 L708.2,239.2 L709.0,238.2 L710.5,237.5 L711.5,237.5M706.9,245.9 L708.2,245.0 L709.1,244.4M651.8,244.4 L652.6,247.1 L655.4,249.9 L656.6,252.0 L656.3,254.9 L656.8,256.8 L658.2,259.0 L658.9,259.2 L661.2,260.2 L663.5,262.2 L666.3,262.9 L666.9,262.5 L667.8,262.5 L670.1,263.0 L670.6,264.5 L671.9,264.5 L674.5,262.4 L676.1,262.2 L677.0,263.2 L677.5,269.1 L676.6,269.4 L678.4,272.4 L680.2,273.5 L680.9,271.9 L682.1,271.4 L684.6,270.4 L686.1,271.2 L687.5,273.3M657.8,259.0 L658.9,261.9 L661.9,263.9 L663.5,264.9 L666.3,265.4 L666.3,262.9M666.3,265.4 L666.8,266.0 L667.3,267.2 L666.7,268.5 L667.0,272.5 L667.3,273.0M668.1,267.2 L670.9,267.7 L670.0,269.3 L670.8,271.1 L671.1,273.6M671.1,273.6 L671.9,269.4 L673.2,267.7 L674.1,264.9 L675.8,263.2M652.3,247.3 L651.1,251.1 L651.5,253.9 L652.1,255.1 L652.7,255.5 L651.8,257.7 L650.1,261.0 L648.3,263.0 L646.6,264.4 L647.7,266.5 L648.2,268.6 L645.9,269.6 L645.1,269.8M677.0,263.2 L676.1,262.2M678.4,272.4 L679.1,275.1 L679.5,275.6 L680.3,273.8 L680.9,271.9M679.1,275.1 L676.8,278.0 L676.3,280.7 L677.8,284.6 L678.0,285.5 L678.0,290.1 L677.5,291.4 L677.4,292.8M679.5,275.6 L679.5,279.7 L680.3,279.4 L681.8,278.9 L683.9,279.9 L684.9,282.6 L684.8,284.6 L682.1,284.7 L681.6,288.0M684.8,284.6 L685.9,284.4 L686.9,284.6 L687.0,286.0 L685.9,288.3 L684.4,290.1 L683.7,290.8M683.9,279.9 L685.9,281.4 L687.0,282.9 L686.9,284.6M681.8,278.9 L682.1,276.7 L683.5,277.5 L683.0,275.4 L681.2,273.6 L680.9,271.9M679.1,296.9 L680.1,298.1 L681.2,297.3M689.2,303.6 L690.6,304.4 L692.7,304.5 L694.5,304.7 L695.4,301.9 L695.3,299.3 L698.0,300.6M722.5,310.8 L722.5,320.9M704.5,321.6 L705.6,321.3" fill="none" stroke="#80a2c8" stroke-width="0.55" stroke-linejoin="round"/>
<path d="M441.6,224.8 L471.5,224.8 L471.5,224.0 L472.1,225.4 L473.8,225.6 L475.9,226.4 L477.5,226.8" fill="none" stroke="#7696bd" stroke-width="0.9" stroke-linejoin="round"/>
<circle cx="407.4" cy="276.4" r="0.8" fill="#9dc3e6"/><circle cx="406.5" cy="274.5" r="0.5" fill="#9dc3e6"/><circle cx="404.7" cy="273.3" r="0.5" fill="#9dc3e6"/><circle cx="403.1" cy="272.4" r="0.45" fill="#9dc3e6"/><circle cx="476.4" cy="307.6" r="0.7" fill="#9dc3e6"/><circle cx="395.7" cy="214.7" r="0.5" fill="#9dc3e6"/><circle cx="393.5" cy="216.2" r="0.45" fill="#9dc3e6"/><circle cx="391.4" cy="217.3" r="0.4" fill="#9dc3e6"/>
<path d="M474.9,229.3 478.0,226.2 480.7,225.2 482.5,229.1 480.7,229.7 478.6,228.2 476.4,229.5ZM479.2,238.2 479.3,234.5 479.6,231.6 482.3,230.7 481.8,232.6 480.7,236.4 480.5,238.2ZM482.8,230.9 485.8,230.9 487.4,233.0 485.8,235.4 485.0,236.4 485.1,234.5 483.4,234.5 483.1,231.6ZM484.0,238.8 486.5,237.7 488.7,236.6 488.1,237.1 486.0,239.2ZM487.8,235.8 491.5,234.1 491.5,235.4 488.7,235.8ZM622.6,233.0 624.7,229.7 627.4,228.7 629.0,229.7 629.2,232.0 627.4,233.5 626.9,236.4 628.8,238.2 629.0,240.1 630.1,241.9 629.9,243.9 629.9,246.6 626.9,247.6 624.7,246.4 625.3,241.9 626.2,241.4 624.7,239.2 623.7,237.3 623.1,236.4 622.8,234.1ZM606.5,308.4 606.7,306.4 607.7,306.2 608.8,307.2 609.1,308.7 608.3,310.7 606.7,311.0 606.2,309.6ZM439.8,185.3 444.0,184.0 446.7,185.8 445.6,189.1 441.9,189.4 441.9,187.1ZM448.3,198.9 451.5,195.5 454.7,194.6 453.6,196.5 450.4,198.4ZM467.4,215.6 468.5,218.1 470.1,220.1 469.5,216.6 468.5,214.9Z" fill="#002060"/>
<path d="M682.9,219.3 L683.7,219.5 L684.8,218.7 L685.9,217.5 L687.2,216.0 L688.2,213.9 L689.0,211.3 L689.4,210.6" fill="none" stroke="#002060" stroke-width="1.3" stroke-linecap="round"/><path d="M603.7,311.9 L604.1,315.3 L605.1,317.9 L605.8,320.2" fill="none" stroke="#002060" stroke-width="0.7" stroke-linecap="round"/><path d="M609.1,321.6 L609.4,324.6 L609.7,327.2 L610.1,329.0" fill="none" stroke="#002060" stroke-width="0.7" stroke-linecap="round"/>
<polyline points="474,138 480,142 482.7,148 479.3,151" fill="none" stroke="#002060" stroke-width="0.9" stroke-linejoin="round" stroke-linecap="round"/><polyline points="483.3,142 488,140.3" fill="none" stroke="#002060" stroke-width="0.8" stroke-linejoin="round" stroke-linecap="round"/><polyline points="452,168 456,170 459,168.5" fill="none" stroke="#002060" stroke-width="0.7" stroke-linejoin="round" stroke-linecap="round"/><polyline points="509,134.2 504.5,138 500,141.8 496,145.5 494,148.5 492.5,151" fill="none" stroke="#002060" stroke-width="1.0" stroke-linejoin="round" stroke-linecap="round"/><polyline points="447,158 449.5,155.5 451.5,152.5" fill="none" stroke="#002060" stroke-width="0.8" stroke-linejoin="round" stroke-linecap="round"/><polyline points="458.5,157.5 461,155.2" fill="none" stroke="#002060" stroke-width="0.8" stroke-linejoin="round" stroke-linecap="round"/><polyline points="455,153.6 462,152.6 468,152.6" fill="none" stroke="#002060" stroke-width="0.8" stroke-linejoin="round" stroke-linecap="round"/><polyline points="469.5,153.4 478,153.2 486,153.4 491,154" fill="none" stroke="#002060" stroke-width="0.9" stroke-linejoin="round" stroke-linecap="round"/><polyline points="440,161.8 450,162.1 460,162.3 470,162.3 480,162.1 489,162" fill="none" stroke="#002060" stroke-width="1.0" stroke-linejoin="round" stroke-linecap="round"/><polyline points="446.9,163 447.1,168 446.6,172" fill="none" stroke="#002060" stroke-width="0.8" stroke-linejoin="round" stroke-linecap="round"/><polyline points="463.6,164 463.9,169" fill="none" stroke="#002060" stroke-width="0.8" stroke-linejoin="round" stroke-linecap="round"/><polyline points="470.3,164 470.8,170" fill="none" stroke="#002060" stroke-width="0.8" stroke-linejoin="round" stroke-linecap="round"/><polyline points="457,146.5 459,149 458,151" fill="none" stroke="#002060" stroke-width="0.7" stroke-linejoin="round" stroke-linecap="round"/><polyline points="467.5,146 468.3,150" fill="none" stroke="#002060" stroke-width="0.7" stroke-linejoin="round" stroke-linecap="round"/><polyline points="496.5,143.5 502,144.8" fill="none" stroke="#002060" stroke-width="1.0" stroke-linejoin="round" stroke-linecap="round"/><polyline points="497,151.2 502,152.4" fill="none" stroke="#002060" stroke-width="0.9" stroke-linejoin="round" stroke-linecap="round"/><polyline points="550.5,148.5 553,149.5" fill="none" stroke="#002060" stroke-width="0.8" stroke-linejoin="round" stroke-linecap="round"/><polyline points="549.5,159.5 551.5,160.3" fill="none" stroke="#002060" stroke-width="0.8" stroke-linejoin="round" stroke-linecap="round"/><polyline points="546.5,170 549,170.8" fill="none" stroke="#002060" stroke-width="0.8" stroke-linejoin="round" stroke-linecap="round"/>
<g fill="#fff">
<text x="745.6" y="27.6" font-family="Liberation Sans, sans-serif" font-weight="bold" font-size="17.6" letter-spacing="-0.9" stroke="#fff" stroke-width="0.5" textLength="35" lengthAdjust="spacingAndGlyphs">EMR</text>
<text x="746.8" y="31.9" font-family="Liberation Sans, sans-serif" font-weight="bold" font-size="3.4" textLength="35" lengthAdjust="spacingAndGlyphs">Leave it to the Experts!</text>
</g>
<circle cx="741.3" cy="30.6" r="2.5" fill="none" stroke="#fff" stroke-width="1.7"/>
<path d="M775.5,15 L780.2,9.6" stroke="#8595bd" stroke-width="2.2"/>
<path d="M776.8,7.6 L783,6.6 L782.2,12.6 Z" fill="#8595bd"/>
</svg>
<div class="t" id="url">www.expertmarketresearch.com</div>
</body></html>
